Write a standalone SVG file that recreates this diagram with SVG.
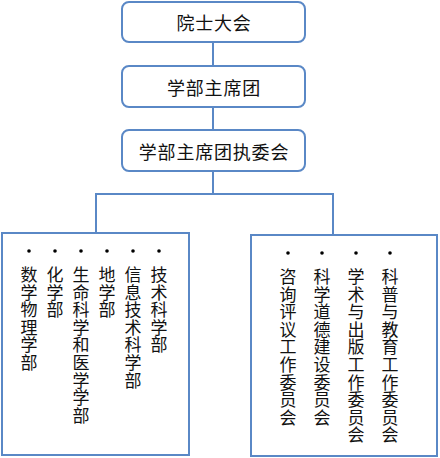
<svg xmlns="http://www.w3.org/2000/svg" width="440" height="458" viewBox="0 0 440 458">
<style>
.box{fill:#fff;stroke:#5A88C6;stroke-width:2}
.ln{fill:none;stroke:#5A88C6;stroke-width:2}
.t{font-family:"Noto Sans CJK SC","Liberation Sans",sans-serif;font-size:18px;fill:#111;text-anchor:middle;letter-spacing:0.8px}
.v{font-family:"Noto Sans CJK SC","Liberation Sans",sans-serif;font-size:17px;fill:#111;writing-mode:tb;letter-spacing:0.6px}
.dot{fill:#000}
</style>
<rect width="440" height="458" fill="#fff"/>
<g id="connectors">
<line class="ln" x1="213" y1="42" x2="213" y2="66"/>
<line class="ln" x1="213" y1="107" x2="213" y2="130"/>
<polyline class="ln" points="213,171 213,194"/>
<polyline class="ln" points="96,233 96,194 333,194 333,235"/>
</g>
<g id="n1"><rect class="box" x="122" y="2" width="183" height="40" rx="7"/><text class="t" x="214" y="30">院士大会</text></g>
<g id="n2"><rect class="box" x="122" y="66" width="183" height="41" rx="7"/><text class="t" x="214" y="95">学部主席团</text></g>
<g id="n3"><rect class="box" x="122" y="130" width="183" height="41" rx="7"/><text class="t" x="214" y="159">学部主席团执委会</text></g>
<g id="left">
<rect class="box" x="2" y="233" width="187" height="222"/>
<circle class="dot" cx="29" cy="251" r="1.8"/><circle class="dot" cx="55" cy="251" r="1.8"/><circle class="dot" cx="81" cy="251" r="1.8"/><circle class="dot" cx="107" cy="251" r="1.8"/><circle class="dot" cx="133" cy="251" r="1.8"/><circle class="dot" cx="159" cy="251" r="1.8"/>
<text class="v" x="29" y="266">数学物理学部</text>
<text class="v" x="55" y="266">化学部</text>
<text class="v" x="81" y="266">生命科学和医学学部</text>
<text class="v" x="107" y="266">地学部</text>
<text class="v" x="133" y="266">信息技术科学部</text>
<text class="v" x="159" y="266">技术科学部</text>
</g>
<g id="right">
<rect class="box" x="251" y="235" width="186" height="221"/>
<circle class="dot" cx="288" cy="253" r="1.8"/><circle class="dot" cx="322" cy="253" r="1.8"/><circle class="dot" cx="356" cy="253" r="1.8"/><circle class="dot" cx="390" cy="253" r="1.8"/>
<text class="v" x="288" y="268">咨询评议工作委员会</text>
<text class="v" x="322" y="268">科学道德建设委员会</text>
<text class="v" x="356" y="268">学术与出版工作委员会</text>
<text class="v" x="390" y="268">科普与教育工作委员会</text>
</g>
</svg>
